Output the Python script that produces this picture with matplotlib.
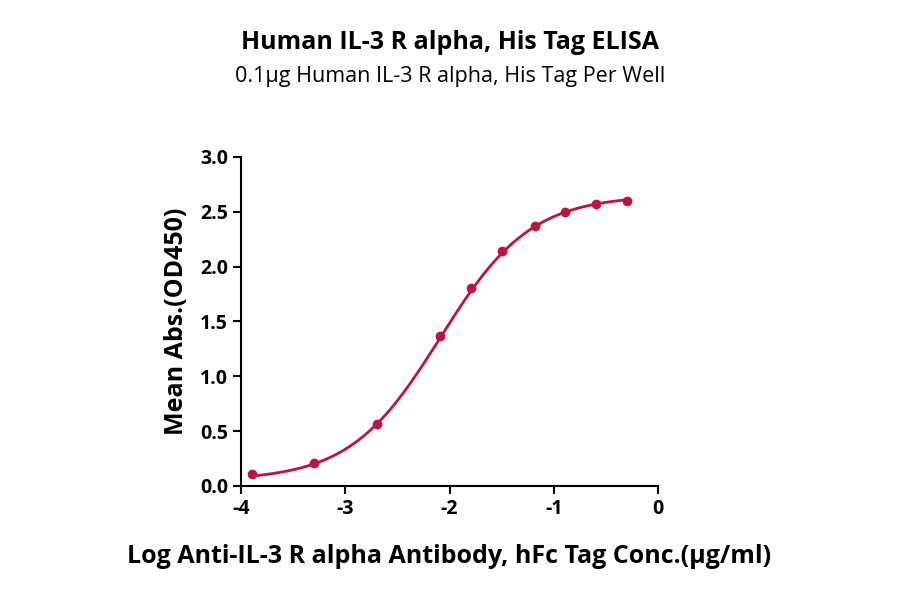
import numpy as np
import matplotlib
matplotlib.use("Agg")
import matplotlib.pyplot as plt

plt.rcParams['font.family'] = ['Open Sans', 'DejaVu Sans']

# data
log_conc = [-3.90, -3.30, -2.70, -2.09, -1.79, -1.50, -1.18, -0.89, -0.59, -0.30]
od450 = [0.11, 0.21, 0.56, 1.37, 1.80, 2.14, 2.37, 2.50, 2.57, 2.60]

# 4PL fit parameters (bottom, top, logEC50, hill)
fit_params = (0.05, 2.65, -2.09, 1.0)

RED = "#C0123F"

fig = plt.figure(figsize=(9, 5.94), dpi=100)
ax = fig.add_axes([0.268, 0.182, 0.463, 0.554])

b, t, c, h = fit_params
xs = np.linspace(log_conc[0], log_conc[-1], 300)
ys = b + (t - b) / (1 + 10 ** ((c - xs) * h))
ax.plot(xs, ys, color=RED, lw=2)
ax.plot(log_conc, od450, 'o', color=RED, ms=6)

ax.set_xlim(-4, 0)
ax.set_ylim(0, 3.0)
ax.set_xticks([-4, -3, -2, -1, 0])
ax.set_xticklabels(["-4", "-3", "-2", "-1", "0"])
ax.set_yticks(np.arange(0, 3.01, 0.5))
ax.set_yticklabels([f"{v:.1f}" for v in np.arange(0, 3.01, 0.5)])
for s in ("top", "right"):
    ax.spines[s].set_visible(False)
for s in ("left", "bottom"):
    ax.spines[s].set_linewidth(1.5)
ax.tick_params(width=1.5, length=6, labelsize=14)
for lbl in ax.get_xticklabels() + ax.get_yticklabels():
    lbl.set_fontweight("bold")
ax.set_xlabel("Log Anti-IL-3 R alpha Antibody, hFc Tag Conc.(μg/ml)",
              fontsize=18, fontweight="bold", labelpad=18)
ax.set_ylabel("Mean Abs.(OD450)", fontsize=18, fontweight="bold", labelpad=8)

fig.text(0.5, 0.918, "Human IL-3 R alpha, His Tag ELISA", ha="center",
         fontsize=18, fontweight="bold")
fig.text(0.5, 0.862, "0.1μg Human IL-3 R alpha, His Tag Per Well", ha="center",
         fontsize=15.5)

fig.savefig("out.png", dpi=100)
